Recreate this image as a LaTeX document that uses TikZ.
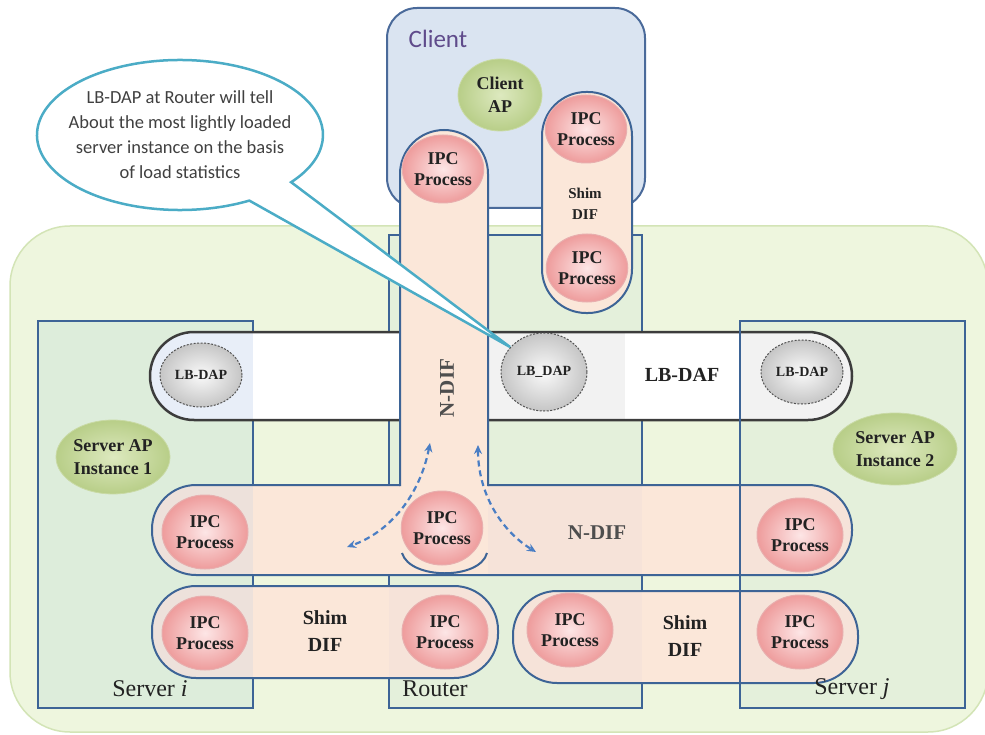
\documentclass[tikz,border=0pt]{standalone}
\usepackage{fontspec}
\setmainfont{Liberation Serif}
\newfontfamily\calib{Carlito}
\usetikzlibrary{shapes.geometric,arrows.meta,calc}
\definecolor{outerfill}{HTML}{EEF6DE}
\definecolor{outerline}{HTML}{D3E4B6}
\definecolor{boxline}{HTML}{3D6496}
\definecolor{srvfill}{HTML}{DDEDDB}
\definecolor{rtfill}{HTML}{E4F0DB}
\definecolor{clientfill}{HTML}{DAE4F1}
\definecolor{clientline}{HTML}{4A6A9A}
\definecolor{clientc}{HTML}{5F4B8B}
\definecolor{peach}{HTML}{FBE7D9}
\definecolor{peachgray}{HTML}{EDE1DB}
\definecolor{peachdark}{HTML}{F6E3D9}
\definecolor{lbblue}{HTML}{E8EEF8}
\definecolor{lbgray}{HTML}{F2F2F2}
\definecolor{bandline}{HTML}{3C3C3C}
\definecolor{ipcin}{HTML}{FDE6E6}
\definecolor{ipcout}{HTML}{EE9C9C}
\definecolor{ipcb}{HTML}{E8AEAE}
\definecolor{apin}{HTML}{DDE9BF}
\definecolor{apout}{HTML}{B8CE88}
\definecolor{apb}{HTML}{C9DAA5}
\definecolor{arrowblue}{HTML}{4A7EC4}
\definecolor{callline}{HTML}{4BACC6}
\definecolor{calltext}{HTML}{404040}
\definecolor{txt}{HTML}{222222}
\begin{document}
\begin{tikzpicture}[x=1pt,y=-1pt,
  boxsty/.style={draw=boxline, line width=2pt},
  bandsty/.style={draw=bandline, line width=2.5pt},
  ipc/.style={ellipse, draw=ipcb, line width=1pt, inner color=ipcin, outer color=ipcout,
    minimum width=86pt, minimum height=74pt, inner sep=0pt, align=center, text=txt,
    font=\fontsize{18}{21}\selectfont\bfseries},
  ipcsmall/.style={ipc, minimum width=78pt, minimum height=68pt},
  lbdap/.style={ellipse, draw=gray!65!black, dash pattern=on 2pt off 1.5pt, line width=1pt,
    inner color=white!96!gray, outer color=gray!45, inner sep=0pt, minimum width=82pt,
    minimum height=64pt, text=txt, font=\fontsize{14}{16}\selectfont\bfseries},
  apnode/.style={ellipse, draw=apb, line width=0.8pt, inner color=apin, outer color=apout,
    inner sep=0pt, align=center, text=txt, font=\fontsize{18}{23}\selectfont\bfseries},
  lbl/.style={text=txt, align=center, font=\fontsize{20}{27}\selectfont\bfseries},
  darrow/.style={draw=arrowblue, line width=2.2pt, dash pattern=on 6pt off 4pt,
    {Stealth[length=9pt,width=8pt]}-{Stealth[length=9pt,width=8pt]}},
  callout/.style={draw=callline, line width=2.5pt, fill=white}
]
\useasboundingbox (0,0) rectangle (985,735);
% outer area
\draw[fill=outerfill, draw=outerline, line width=1.5pt, rounded corners=60] (10,226) rectangle (988,732);
% client box
\draw[fill=clientfill, draw=clientline, line width=2pt, rounded corners=30] (387,8) rectangle (645,208);
% server and router boxes
\draw[boxsty, fill=srvfill] (38,321) rectangle (253,708);
\draw[boxsty, fill=rtfill] (389,235) rectangle (642,708);
\fill[rtfill] (740,321) rectangle (965,708);
% LB-DAF band
\begin{scope}
  \clip[rounded corners=44] (150,332) rectangle (852,420);
  \fill[white] (150,332) rectangle (852,420);
  \fill[lbblue] (150,332) rectangle (253,420);
  \fill[lbgray] (488,332) rectangle (625,420);
  \fill[lbgray] (740,332) rectangle (852,420);
\end{scope}
\draw[bandsty, rounded corners=44] (150,332) rectangle (852,420);
% N-DIF band
\begin{scope}
  \clip[rounded corners=44] (152,485) rectangle (852,575);
  \fill[peach] (152,485) rectangle (852,575);
  \fill[peachgray] (152,485) rectangle (253,575);
  \fill[peachdark] (488,485) rectangle (642,575);
  \fill[peachdark] (740,485) rectangle (852,575);
\end{scope}
\draw[boxsty, rounded corners=44] (152,485) rectangle (852,575);
% lower shim capsules
\begin{scope}
  \clip[rounded corners=44] (152,586) rectangle (498,678);
  \fill[peach] (152,586) rectangle (498,678);
  \fill[peachgray] (152,586) rectangle (253,678);
  \fill[peachdark] (389,586) rectangle (498,678);
\end{scope}
\draw[boxsty, rounded corners=44] (152,586) rectangle (498,678);
\begin{scope}
  \clip[rounded corners=44] (513,591) rectangle (858,683);
  \fill[peach] (513,591) rectangle (858,683);
  \fill[peachdark] (513,591) rectangle (642,683);
  \fill[peachdark] (740,591) rectangle (858,683);
\end{scope}
\draw[boxsty, rounded corners=44] (513,591) rectangle (858,683);
% upper shim capsule
\draw[boxsty, fill=peach, rounded corners=44] (542,92) rectangle (632,313);
% vertical N-DIF capsule
\fill[peach] (400,489) -- (400,174) arc[start angle=180, end angle=360, radius=44] -- (488,489) -- cycle;
\draw[boxsty] (400,486) -- (400,174) arc[start angle=180, end angle=360, radius=44] -- (488,486);
\draw[boxsty] (402,553) .. controls (410,580) and (480,580) .. (487,553);
% server j outline on top
\draw[boxsty] (740,321) rectangle (965,708);
% texts and processes
\node[font=\calib\fontsize{25}{28}\selectfont, text=clientc] (clientlbl) at (438,39) {Client};
\node[apnode, minimum width=84pt, minimum height=72pt] (clientap) at (500,95) {Client\\AP};
\node[ipcsmall] (ipcc) at (443,169) {IPC\\Process};
\node[ipcsmall] (ipcs1) at (586,129) {IPC\\Process};
\node[ipcsmall] (ipcs2) at (587,268) {IPC\\Process};
\node[lbl, font=\fontsize{15}{21}\selectfont\bfseries] (shimtop) at (585,204) {Shim\\DIF};
\node[lbdap] (lbl1) at (201,375) {LB-DAP};
\node[lbdap, minimum width=86pt, minimum height=78pt] (lbmid) at (544,372) {LB\_DAP};
\node[lbdap] (lbr) at (802,372) {LB-DAP};
\node[lbl, font=\fontsize{20}{22}\selectfont\bfseries] (lbdaf) at (682,375) {LB-DAF};
\node[lbl, rotate=90, text=txt!80, font=\fontsize{21}{22}\selectfont\bfseries] (ndifv) at (447,388) {N-DIF};
\node[apnode, minimum width=114pt, minimum height=74pt] (sap1) at (113,457) {Server AP\\Instance 1};
\node[apnode, minimum width=124pt, minimum height=72pt] (sap2) at (895,449) {Server AP\\Instance 2};
\node[ipc] (n1) at (205,532) {IPC\\Process};
\node[ipc, minimum width=80pt] (n2) at (442,528) {IPC\\Process};
\node[ipc] (n3) at (800,535) {IPC\\Process};
\node[lbl, text=txt!80, font=\fontsize{21}{22}\selectfont\bfseries] (ndifh) at (597,533) {N-DIF};
\node[ipc] (s1) at (205,633) {IPC\\Process};
\node[ipc] (s2) at (445,632) {IPC\\Process};
\node[ipc] (s3) at (570,630) {IPC\\Process};
\node[ipc] (s4) at (800,632) {IPC\\Process};
\node[lbl] (shim1) at (325,631) {Shim\\DIF};
\node[lbl] (shim2) at (685,636) {Shim\\DIF};
\node[text=txt, font=\fontsize{24}{26}\selectfont] (srvi) at (150,689) {Server \textit{i}};
\node[text=txt, font=\fontsize{24}{26}\selectfont] (router) at (435,689) {Router};
\node[text=txt, font=\fontsize{24}{26}\selectfont] (srvj) at (852,689) {Server \textit{j}};
% dashed arrows
\coordinate (a1t) at (430,443);
\coordinate (a1b) at (347,547);
\coordinate (a2t) at (478,445);
\coordinate (a2b) at (536,552);
\draw[darrow] (a1t) .. controls (420,495) and (390,532) .. (a1b);
\draw[darrow] (a2t) .. controls (478,492) and (500,530) .. (a2b);
% callout
\coordinate (cc) at (180,135);
\coordinate (ctip) at (510,347);
\draw[callout] (ctip) -- ($(cc)+(61:143 and 75)$) arc[start angle=61, end angle=399, x radius=143, y radius=75] -- cycle;
\node[font=\calib\fontsize{18.5}{25}\selectfont, text=calltext, align=center] (note) at (cc)
  {LB-DAP at Router will tell\\About the most lightly loaded\\server instance on the basis\\of load statistics};
\end{tikzpicture}
\end{document}
